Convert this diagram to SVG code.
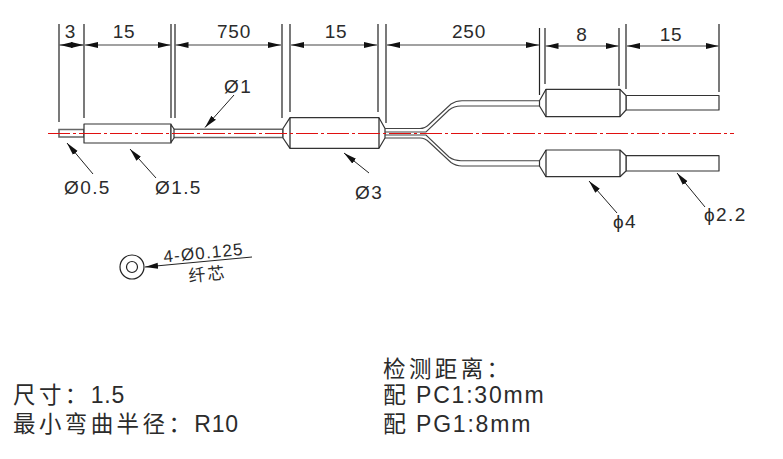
<svg xmlns="http://www.w3.org/2000/svg" width="783" height="459" viewBox="0 0 783 459">
<style>
text{font-family:"Liberation Sans","Noto Sans CJK SC",sans-serif;fill:#2b2b2b}
.d{font-size:19px;letter-spacing:.8px;text-anchor:middle}
.l{font-size:19px;letter-spacing:1.4px}
.b{font-size:22.500px;letter-spacing:3.4px}
.n{font-size:23px;letter-spacing:.8px}
.m{font-size:23px;letter-spacing:1.8px}
.e{stroke:#222;stroke-width:1.2;fill:none}
.dim{stroke:#444;stroke-width:1.2;fill:none;marker-start:url(#as);marker-end:url(#a)}
.lead{stroke:#222;stroke-width:1;fill:none;marker-end:url(#a)}
.o{stroke:#333;stroke-width:1.2;fill:#fff;stroke-linejoin:round}
.f{stroke:#666;stroke-width:1.6;fill:#fff}
.w{stroke:#444;stroke-width:1.1;fill:none}
.c{stroke:#e01010;stroke-width:1;fill:none;stroke-dasharray:22 3 3 3}
</style>
<defs>
<marker id="a" markerUnits="userSpaceOnUse" markerWidth="14" markerHeight="8" refX="13" refY="4" orient="auto"><path d="M0 1 L13 4 L0 7Z" fill="#111"/></marker>
<marker id="as" markerUnits="userSpaceOnUse" markerWidth="14" markerHeight="8" refX="0" refY="4" orient="auto"><path d="M13 1 L0 4 L13 7Z" fill="#111"/></marker>
</defs>
<g id="extension-lines" class="e">
<path d="M59 24V122M84 24V118M171 24V118M175 24V118M282 24V118M290 24V112M378 24V112M386 24V123M539.500 28V95M545 28V84M619 28V86M626 24V89M719 24V92"/>
</g>
<g id="part-body">
<path class="f" d="M59 129.500H84V137H59Z"/>
<path class="f" d="M171 129.300H283V137.500H171Z"/>
<path class="o" d="M84 124H171V143H84Z"/>
<path class="o" d="M171 124.500L174 129V138L171 142.500Z"/>
<path class="o" d="M283 128.500L290 117.700H379L385 128.500V138L379 148.300H290L283 138Z"/>
<path class="e" d="M290 117.700V148.300M379 117.700V148.300"/>
<path class="w" d="M385 128.500H420Q425 128.500 429 124.500L451 104Q456 100.700 462 100.700H540"/>
<path class="w" d="M385 132H426L449 110Q454 106 461 106H540"/>
<path class="w" d="M385 135H426L449 157Q454 160.700 461 160.700H540"/>
<path class="w" d="M385 138H420Q425 138 429 142L451 162.500Q456 166 462 166H540"/>
<path class="o" d="M626 95.500H719V110H626Z"/>
<path class="o" d="M539.500 100.700L546 89.300H620L626 95.500V110L620 116.700H546L539.500 106Z"/>
<path class="e" d="M546 89.300V116.700M620 89.300V116.700"/>
<path class="o" d="M626 155.700H719V171H626Z"/>
<path class="o" d="M539.500 160.700L546 150H620L626 155.700V171L620 176.700H546L539.500 166Z"/>
<path class="e" d="M546 150V176.700M620 150V176.700"/>
</g>
<path id="centre-line" class="c" d="M48 133.500H734"/>
<g id="connectors">
<path class="dim" d="M59.500 45H83.500"/>
<path class="dim" d="M85 45H170.500"/>
<path class="dim" d="M175.500 45H281"/>
<path class="dim" d="M291 45H377"/>
<path class="dim" d="M387 45H539"/>
<path class="dim" d="M545.500 46H618.500"/>
<path class="dim" d="M627 46H718.500"/>
<path class="lead" d="M234 95L205 127.500"/>
<path class="lead" d="M93 174L67 143"/>
<path class="lead" d="M156 178L130 149"/>
<path class="lead" d="M369 173L344 153"/>
<path class="lead" d="M617 213L589 181"/>
<path class="lead" d="M705 207L677 173"/>
<path class="lead" d="M252 257L145 267"/>
</g>
<g id="fiber-section" fill="none" stroke="#222" stroke-width="1.2">
<circle cx="132" cy="267" r="12"/>
<circle cx="132" cy="267" r="5.500"/>
</g>
<g id="labels">
<text class="d" x="70.500" y="38">3</text>
<text class="d" x="124" y="38">15</text>
<text class="d" x="234" y="38">750</text>
<text class="d" x="336" y="38">15</text>
<text class="d" x="469" y="38">250</text>
<text class="d" x="582" y="41">8</text>
<text class="d" x="671" y="41">15</text>
<text class="l" x="224" y="93">Ø1</text>
<text class="l" x="64" y="194">Ø0.5</text>
<text class="l" x="155" y="194">Ø1.5</text>
<text class="l" x="355" y="199">Ø3</text>
<text class="l" x="613" y="228">ϕ4</text>
<text class="l" x="704" y="221">ϕ2.2</text>
<text font-size="17" letter-spacing="1.2" transform="translate(164 262.500) rotate(-5.500)">4-Ø0.125</text>
<text font-size="17" letter-spacing="2" transform="translate(189 282) rotate(-5.500)">纤芯</text>
<text class="b" x="13" y="403">尺寸：<tspan class="n">1.5</tspan></text>
<text class="b" x="13" y="432">最小弯曲半径：<tspan class="n">R10</tspan></text>
<text class="b" x="383" y="377">检测距离：</text>
<text class="m" x="383" y="403">配 PC1:30mm</text>
<text class="m" x="383" y="432">配 PG1:8mm</text>
</g>
</svg>
